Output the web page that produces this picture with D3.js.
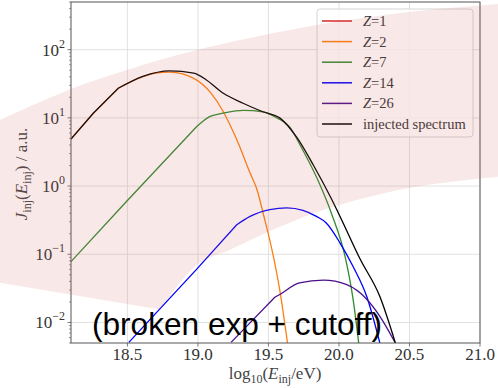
<html>
<head>
    <script src='https://cdnjs.cloudflare.com/ajax/libs/d3/7.8.5/d3.min.js'></script>
    <style>
        body { margin: 0; background: #fff; }
        text { font-family: 'Liberation Serif', 'DejaVu Serif', serif; }
    </style>
</head>
<body>
</body>

<script>
    // values: log10(E) and J (a.u.)
    var eZ2 = [18.10, 18.258, 18.435, 18.61, 18.70, 18.80, 18.97, 19.09, 19.18, 19.275, 19.37, 19.42, 19.465, 19.535, 19.58, 19.635];
    var jZ2 = [4.9, 11.7, 27.2, 40.3, 45.2, 46.8, 38.0, 23.4, 12.3, 4.8, 1.55, 0.87, 0.38, 0.093, 0.030, 0.005];

    var eZ7 = [18.10, 18.495, 18.99, 19.086, 19.18, 19.32, 19.46, 19.56, 19.65, 19.73, 19.843, 19.95, 20.043, 20.10, 20.14];
    var jZ7 = [0.078, 0.60, 7.4, 10.5, 11.7, 12.9, 12.3, 10.0, 7.4, 3.8, 1.32, 0.38, 0.093, 0.022, 0.005];

    var eZ14 = [18.51, 18.99, 19.275, 19.37, 19.51, 19.63, 19.745, 19.84, 19.91, 20.008, 20.10, 20.197, 20.29];
    var jZ14 = [0.0051, 0.060, 0.271, 0.359, 0.450, 0.479, 0.440, 0.359, 0.288, 0.146, 0.066, 0.024, 0.005];

    var eZ26 = [19.235, 19.545, 19.58, 19.72, 19.89, 20.055, 20.197, 20.29, 20.40];
    var jZ26 = [0.0051, 0.0234, 0.0257, 0.038, 0.0417, 0.0359, 0.0219, 0.0123, 0.005];

    var eTot = [18.10, 18.258, 18.435, 18.61, 18.80, 18.97, 19.06, 19.18, 19.32, 19.46, 19.58, 19.70, 19.82, 19.94, 20.01, 20.15, 20.29, 20.40];
    var jTot = [4.9, 11.7, 27.2, 40.7, 49.0, 45.2, 36.0, 22.9, 16.4, 12.3, 10.0, 5.2, 2.0, 0.69, 0.35, 0.085, 0.024, 0.005];

    // shaded band (log10 E, log10 J), extends past the axes
    var bandTopE = [17.596, 18.1, 18.497, 18.994, 19.724, 20.433, 21.128];
    var bandTopLog = [0.971, 1.425, 1.703, 1.996, 2.318, 2.537, 2.669];
    var bandLowE = [21.128, 20.504, 19.937, 19.582, 19.228, 18.994, 18.731];
    var bandLowLog = [0.136, -0.025, -0.318, -0.596, -0.933, -1.152, -1.811];
    var bandCornerE = 17.596, bandCornerLog = -1.416;

    var xTicks = [18.5, 19.0, 19.5, 20.0, 20.5, 21.0];
    var yTicks = [-2, -1, 0, 1, 2];

    var series = [
        {name: '1', color: '#d62728', e: [], j: [], kink: 0},
        {name: '2', color: '#ff7f0e', e: eZ2, j: jZ2, kink: 2},
        {name: '7', color: '#2e8b2e', e: eZ7, j: jZ7, kink: 2},
        {name: '14', color: '#0000ff', e: eZ14, j: jZ14, kink: 2},
        {name: '26', color: '#4b0f8c', e: eZ26, j: jZ26, kink: 1},
        {name: 'injected spectrum', color: '#000000', e: eTot, j: jTot, kink: 2}
    ];

    var W = 498, H = 388;
    var padL = 71, padR = 480, padT = 2, padB = 343;

    var x = d3.scaleLinear().domain([18.1, 21.0]).range([padL, padR]);
    var y = d3.scaleLog().domain([0.005, 500]).range([padB, padT]);

    var svg = d3.select('body').append('svg')
                .attr('width', W).attr('height', H);

    svg.append('rect').attr('width', W).attr('height', H).attr('fill', '#fff');

    svg.append('clipPath').attr('id', 'plot')
       .append('rect').attr('x', padL).attr('y', padT)
       .attr('width', padR - padL).attr('height', padB - padT);

    // grid
    var grid = svg.append('g').attr('stroke', '#dedede').attr('stroke-width', 0.9);
    xTicks.forEach(function (t) {
        grid.append('line').attr('x1', x(t)).attr('x2', x(t)).attr('y1', padT).attr('y2', padB);
    });
    yTicks.forEach(function (t) {
        grid.append('line').attr('x1', padL).attr('x2', padR)
            .attr('y1', y(Math.pow(10, t))).attr('y2', y(Math.pow(10, t)));
    });

    // curves: power law part straight, cutoff part smooth
    var straight = d3.line().x(function (d) { return x(d[0]); }).y(function (d) { return y(d[1]); });
    var smooth = d3.line().x(function (d) { return x(d[0]); }).y(function (d) { return y(d[1]); })
                   .curve(d3.curveMonotoneX);

    var lines = svg.append('g').attr('clip-path', 'url(#plot)');
    series.forEach(function (s) {
        if (!s.e.length) return;
        var pts = s.e.map(function (v, i) { return [v, s.j[i]]; });
        var d = straight(pts.slice(0, s.kink + 1)) + smooth(pts.slice(s.kink)).replace(/^M/, 'L');
        lines.append('path').attr('d', d)
             .attr('fill', 'none').attr('stroke', s.color).attr('stroke-width', 1.3);
    });

    // spines
    svg.append('rect').attr('x', padL).attr('y', padT)
       .attr('width', padR - padL).attr('height', padB - padT)
       .attr('fill', 'none').attr('stroke', '#555').attr('stroke-width', 1);

    // ticks
    var ticks = svg.append('g').attr('stroke', '#555').attr('stroke-width', 0.8);
    xTicks.forEach(function (t) {
        ticks.append('line').attr('x1', x(t)).attr('x2', x(t)).attr('y1', padB).attr('y2', padB + 3.5);
    });
    yTicks.forEach(function (t) {
        var yy = y(Math.pow(10, t));
        ticks.append('line').attr('x1', padL - 3.5).attr('x2', padL).attr('y1', yy).attr('y2', yy);
    });
    for (var k = -3; k <= 2; k++) {
        for (var m = 2; m <= 9; m++) {
            var v = m * Math.pow(10, k);
            if (v < 0.005 || v > 500) continue;
            ticks.append('line').attr('x1', padL - 2).attr('x2', padL)
                 .attr('y1', y(v)).attr('y2', y(v)).attr('stroke-width', 0.6);
        }
    }

    // tick labels
    xTicks.forEach(function (t) {
        svg.append('text').attr('x', x(t)).attr('y', 360)
           .attr('text-anchor', 'middle').attr('font-size', 17).attr('fill', '#333')
           .text(t.toFixed(1));
    });
    yTicks.forEach(function (t) {
        var lab = svg.append('text').attr('x', 65).attr('y', y(Math.pow(10, t)) + 6)
                     .attr('text-anchor', 'end').attr('font-size', 17).attr('fill', '#333');
        lab.append('tspan').text('10');
        lab.append('tspan').attr('dy', -8).attr('font-size', 12)
           .text(t < 0 ? '\u2212' + (-t) : String(t));
    });

    // axis labels
    var xl = svg.append('text').attr('x', 275).attr('y', 379)
                .attr('text-anchor', 'middle').attr('font-size', 17).attr('fill', '#444');
    xl.append('tspan').text('log');
    xl.append('tspan').attr('dy', 4).attr('font-size', 12).text('10');
    xl.append('tspan').attr('dy', -4).text('(');
    xl.append('tspan').attr('font-style', 'italic').text('E');
    xl.append('tspan').attr('dy', 4).attr('font-size', 12).text('inj');
    xl.append('tspan').attr('dy', -4).text('/eV)');

    var yl = svg.append('text').attr('transform', 'translate(27,174) rotate(-90)')
                .attr('text-anchor', 'middle').attr('font-size', 17).attr('fill', '#444');
    yl.append('tspan').attr('font-style', 'italic').text('J');
    yl.append('tspan').attr('dy', 4).attr('font-size', 12).text('inj');
    yl.append('tspan').attr('dy', -4).text('(');
    yl.append('tspan').attr('font-style', 'italic').text('E');
    yl.append('tspan').attr('dy', 4).attr('font-size', 12).text('inj');
    yl.append('tspan').attr('dy', -4).text(') / a.u.');

    // legend
    var lg = svg.append('g');
    lg.append('rect').attr('x', 317).attr('y', 9).attr('width', 156).attr('height', 128)
      .attr('rx', 3).attr('fill', '#fff').attr('fill-opacity', 0.8)
      .attr('stroke', '#d0d0d0').attr('stroke-width', 0.9);
    series.forEach(function (s, i) {
        var yy = 21 + i * 20.6;
        lg.append('line').attr('x1', 322).attr('x2', 352).attr('y1', yy).attr('y2', yy)
          .attr('stroke', s.color).attr('stroke-width', 1.5);
        var t = lg.append('text').attr('x', 363).attr('y', yy + 5)
                  .attr('font-size', 14.5).attr('fill', '#333');
        if (s.name === 'injected spectrum') {
            t.text(s.name);
        } else {
            t.append('tspan').attr('font-style', 'italic').text('Z');
            t.append('tspan').text('=' + s.name);
        }
    });

    // shaded band on top
    var bandLine = d3.line().x(function (d) { return x(d[0]); })
                     .y(function (d) { return y(Math.pow(10, d[1])); })
                     .curve(d3.curveCatmullRom);
    var topPts = bandTopE.map(function (v, i) { return [v, bandTopLog[i]]; });
    var lowPts = bandLowE.map(function (v, i) { return [v, bandLowLog[i]]; });
    var bandPath = bandLine(topPts) + bandLine(lowPts).replace(/^M/, 'L') +
                   'L' + x(bandCornerE) + ',' + y(Math.pow(10, bandCornerLog)) + 'Z';
    svg.append('path').attr('d', bandPath)
       .attr('fill', 'rgb(210,100,100)').attr('fill-opacity', 0.15);

    // caption
    svg.append('text').attr('x', 92).attr('y', 335)
       .style('font-family', "'Liberation Sans', Arial, sans-serif")
       .attr('font-size', 31.6).attr('fill', '#000')
       .text('(broken exp + cutoff)');
</script>
</html>
